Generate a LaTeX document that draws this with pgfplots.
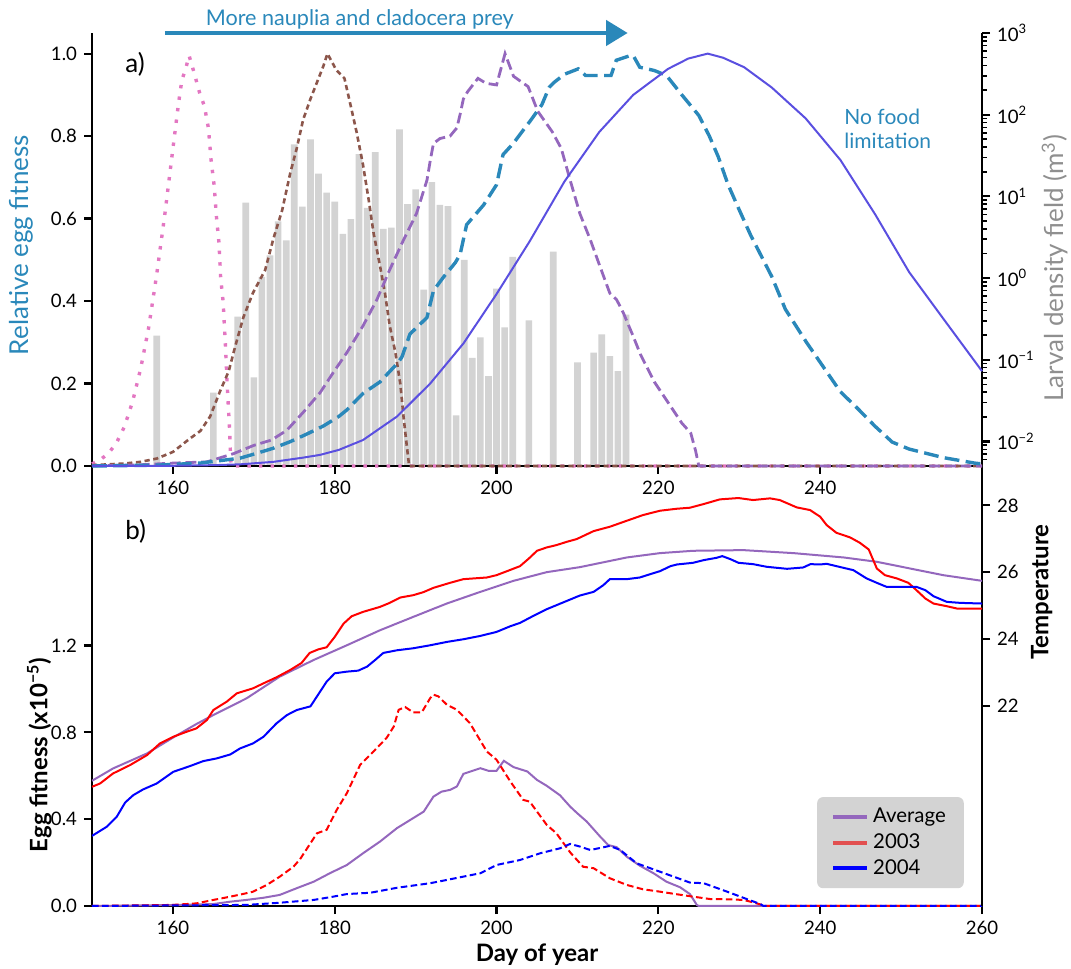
\documentclass[border=0pt]{standalone}
\usepackage{fontspec}
\setmainfont{Lato}
\usepackage{pgfplots}
\pgfplotsset{compat=1.18}
\usetikzlibrary{arrows.meta}

\definecolor{tblue}{HTML}{2A88BA}
\definecolor{sblue}{HTML}{5A4FE0}
\definecolor{tpink}{HTML}{E377C2}
\definecolor{tbrown}{HTML}{8C564B}
\definecolor{tpurple}{HTML}{9467BD}
\definecolor{lgray}{HTML}{D3D3D3}
\definecolor{labgray}{HTML}{8F8F8F}
\definecolor{legred}{HTML}{E25050}

\pgfplotsset{
  panel/.style={
    scale only axis, width=445pt,
    xmin=150, xmax=260, enlargelimits=false,
    axis line style={line width=1.2pt, black},
    every tick/.style={black, line width=1.1pt},
    every minor tick/.style={black, line width=0.8pt},
    tick align=outside,
    major tick length=4pt, minor tick length=2.3pt,
    tick label style={font=\fontsize{9.3}{11}\selectfont},
    /pgf/number format/assume math mode=true,
  },
}

\begin{document}
\begin{tikzpicture}
\useasboundingbox (-46pt,-31.5pt) rectangle (489.5pt,453pt);

% ---------- panel a: larval density (right, log) ----------
\begin{axis}[panel, at={(0,220pt)}, height=216.5pt,
  axis x line=none, axis y line*=right,
  ymode=log, ymin=0.005, ymax=1000, log origin=infty,
  ytick={0.01,0.1,1,10,100,1000},
  minor ytick={0.006,0.007,0.008,0.009,0.02,0.03,0.04,0.05,0.06,0.07,0.08,0.09,
    0.2,0.3,0.4,0.5,0.6,0.7,0.8,0.9,2,3,4,5,6,7,8,9,20,30,40,50,60,70,80,90,
    200,300,400,500,600,700,800,900},
  yticklabels={10\textsuperscript{−2},10\textsuperscript{−1},10\textsuperscript{0},
    10\textsuperscript{1},10\textsuperscript{2},10\textsuperscript{3}},
  ylabel={Larval density field (m\textsuperscript{3})},
  ylabel style={at={(rel axis cs:1.082,0.457)}, anchor=center,
    font=\fontsize{13}{15}\selectfont, text=labgray},
]
\addplot[ybar, bar width=0.82, fill=lgray, draw=none] coordinates {
(158,0.197) (165,0.0396) (168,0.336) (169,8.41) (170,0.0608) (171,1.03)
(172,1.90) (173,4.93) (174,2.89) (175,43.4) (176,7.50) (177,49.9)
(178,19.0) (179,11.1) (180,8.61) (181,3.48) (182,5.28) (183,32.8)
(184,7.23) (185,34.8) (186,4.00) (187,4.14) (188,65.9) (189,8.03)
(190,12.2) (191,0.724) (192,14.9) (193,7.85) (194,7.59) (195,0.0209)
(196,1.67) (197,0.105) (198,0.188) (199,0.0630) (200,0.741) (201,0.249)
(202,1.82) (204,0.303) (207,2.11) (210,0.0925) (212,0.122) (213,0.204)
(214,0.111) (215,0.0725) (216,0.356)
};
\end{axis}

% ---------- panel a: relative egg fitness (left) ----------
\begin{axis}[panel, at={(0,220pt)}, height=216.5pt,
  axis x line*=bottom, axis y line*=left,
  ymin=0, ymax=1.05,
  ytick={0,0.2,0.4,0.6,0.8,1.0},
  yticklabel style={/pgf/number format/.cd, fixed, fixed zerofill, precision=1},
  xtick={150,160,180,200,220,240,260},
  xticklabels={,160,180,200,220,240,},
  ylabel={Relative egg fitness},
  ylabel style={at={(rel axis cs:-0.079,0.51)}, anchor=center,
    font=\fontsize{13}{15}\selectfont, text=tblue},
  clip=false,
]
% pink dotted
\addplot[tpink, line width=1.7pt, dash pattern=on 1.7pt off 4.1pt] coordinates {
(150,0.005) (151,0.015) (152,0.03) (153,0.055) (154,0.095) (155,0.155)
(156,0.235) (157,0.335) (158,0.465) (159,0.61) (160,0.77) (160.7,0.88)
(161.1,0.935) (161.6,0.965) (162,0.995) (162.6,0.955) (163.3,0.905)
(163.9,0.872) (164.4,0.818) (164.7,0.745) (165.1,0.68) (165.4,0.60)
(165.7,0.54) (165.9,0.456) (166.2,0.40) (166.5,0.29) (166.7,0.20)
(167,0.09) (167.1,0.035) (167.2,0) (260,0)
};
% brown dotted
\addplot[tbrown, line width=1.3pt, dash pattern=on 2.6pt off 1.8pt] coordinates {
(150,0.002) (154,0.006) (156,0.01) (158,0.018) (160,0.034) (162,0.065)
(163.4,0.085) (164.6,0.12) (165.8,0.18) (166.9,0.23) (167.7,0.29)
(168.7,0.36) (169.9,0.42) (171.4,0.475) (172.4,0.55) (173.5,0.62)
(174.5,0.71) (175.3,0.77) (176.1,0.84) (177,0.89) (177.8,0.93)
(178.6,0.97) (179.1,1.0) (180.2,0.96) (181.2,0.94) (181.9,0.88)
(182.7,0.81) (183.5,0.73) (184.2,0.645) (184.8,0.565) (185.6,0.485)
(186.2,0.42) (186.8,0.34) (187.5,0.275) (188.1,0.20) (188.5,0.12)
(188.9,0.05) (189.2,0) (260,0)
};
% purple dashed
\addplot[tpurple, line width=1.4pt, dash pattern=on 5.4pt off 2.4pt] coordinates {
(150,0) (156,0.003) (160,0.007) (164.2,0.01) (167.5,0.03) (170,0.05)
(172.2,0.063) (174.1,0.087) (176.1,0.13) (178.2,0.178) (179.8,0.226)
(181.5,0.275) (183.5,0.34) (185.2,0.403) (186.8,0.476) (188.5,0.548)
(190.1,0.612) (191.4,0.693) (191.8,0.74) (192.2,0.782) (193,0.794)
(194.25,0.80) (195.1,0.82) (195.5,0.853) (195.9,0.89) (196.4,0.907)
(197.7,0.94) (198.7,0.928) (200,0.924) (201.05,1.0) (202.1,0.945)
(203.9,0.92) (205.1,0.86) (206.9,0.81) (208,0.77) (209.1,0.693)
(210.3,0.612) (211.6,0.548) (212.8,0.483) (214,0.419) (214.85,0.403)
(215.7,0.37) (216.9,0.314) (217.8,0.27) (219.5,0.204) (221.2,0.154)
(222.9,0.104) (224,0.08) (224.6,0.037) (225,0) (260,0)
};
% blue long dashed
\addplot[tblue, line width=1.7pt, dash pattern=on 7.4pt off 3.2pt] coordinates {
(150,0) (158,0.002) (163.35,0.007) (166.65,0.015) (168.3,0.019)
(170.4,0.031) (172.4,0.043) (174.5,0.059) (176.5,0.077) (178.6,0.097)
(180.5,0.12) (181.5,0.136) (183.5,0.176) (185.6,0.204) (187.7,0.248)
(188.3,0.264) (189.3,0.32) (191.4,0.36) (192.2,0.425) (193.4,0.457)
(194.9,0.493) (195.5,0.513) (196.3,0.585) (198.4,0.633) (200,0.682)
(200.8,0.755) (202.1,0.783) (203.7,0.825) (204.1,0.835) (205.6,0.876)
(206.5,0.918) (207.1,0.93) (208.4,0.95) (210.1,0.963) (211,0.947)
(214.15,0.947) (214.8,0.984) (216.5,0.995) (216.9,0.995) (217.7,0.967)
(219.5,0.959) (221,0.947) (222.9,0.90) (225,0.85) (226.3,0.80)
(227.4,0.75) (228.6,0.683) (229.7,0.634) (231.4,0.56) (234,0.46)
(235.7,0.38) (237,0.34) (238.3,0.30) (240.4,0.24) (242.5,0.18)
(244.6,0.14) (246.8,0.096) (248.9,0.058) (251,0.041) (255.3,0.02)
(259.1,0.007) (260,0.005)
};
% no food limitation
\addplot[sblue, line width=1pt] coordinates {
(150,0) (160,0.0005) (165,0.002) (168.3,0.004) (172.4,0.01) (176,0.02)
(178.2,0.027) (180.5,0.039) (183.5,0.063) (187.7,0.12) (191.8,0.20)
(195.9,0.297) (200,0.417) (204.1,0.545) (208.4,0.69) (212.7,0.81)
(216.9,0.90) (221.2,0.963) (223.7,0.988) (226.1,1.0) (228,0.99)
(230.6,0.967) (234,0.918) (238.2,0.843) (242.5,0.742) (246.8,0.61)
(251,0.47) (255.3,0.355) (260,0.23)
};
\draw[tblue, line width=1.7pt, -{Triangle[length=10.8pt,width=12.7pt]}]
  (axis cs:159,1.05) -- (axis cs:216.2,1.05);
\node[anchor=base, inner sep=0pt, text=tblue, font=\fontsize{10.8}{13}\selectfont]
  at (axis cs:183.1,1.069) {More nauplia and cladocera prey};
\node[anchor=base west, inner sep=0pt, text=tblue, font=\fontsize{10.5}{12}\selectfont]
  at (axis cs:242.95,0.829) {No food};
\node[anchor=base west, inner sep=0pt, text=tblue, font=\fontsize{10.5}{12}\selectfont]
  at (axis cs:242.95,0.769) {limitation};
\node[anchor=base west, inner sep=0pt, font=\fontsize{13}{15}\selectfont]
  at (axis cs:154.08,0.954) {a)};
\end{axis}

% ---------- panel b: egg fitness (left) ----------
\begin{axis}[panel, at={(0,0)}, height=217pt,
  axis x line*=bottom, axis y line*=left,
  ymin=0, ymax=2.0,
  ytick={0,0.4,0.8,1.2},
  yticklabel style={/pgf/number format/.cd, fixed, fixed zerofill, precision=1},
  xtick={160,180,200,220,240,260},
  xlabel={Day of year},
  xlabel style={at={(rel axis cs:0.5,-0.113)}, anchor=center,
    font=\bfseries\fontsize{12}{14}\selectfont},
  ylabel={Egg fitness (x10\textsuperscript{−5})},
  ylabel style={at={(rel axis cs:-0.059,0.348)}, anchor=center,
    font=\bfseries\fontsize{12}{14}\selectfont},
  clip=false,
]
\addplot[tpurple, line width=1pt] coordinates {
(150,0) (160.8,0.005) (165,0.009) (167.1,0.02) (169.1,0.028) (171.2,0.038)
(173.2,0.051) (175.3,0.082) (177.4,0.112) (179.4,0.151) (181.5,0.189)
(183.5,0.243) (185.6,0.297) (187.7,0.359) (189.7,0.405) (191,0.435)
(192.2,0.504) (193.2,0.527) (194.25,0.535) (195.1,0.551) (195.9,0.609)
(198,0.635) (199,0.623) (200,0.623) (200.9,0.669) (202.1,0.64)
(203.8,0.62) (205,0.581) (206.2,0.554) (207.85,0.51) (209.1,0.458)
(209.9,0.43) (211.15,0.389) (212.8,0.32) (213.8,0.281) (214.85,0.271)
(216.1,0.227) (217.7,0.186) (219.4,0.151) (221,0.112) (222.7,0.086)
(223.9,0.055) (224.75,0.005) (225,0) (260,0)
};
\addplot[red, line width=1pt, dash pattern=on 3.3pt off 1.7pt] coordinates {
(150,0) (160,0.005) (162.9,0.012) (165,0.028) (167.1,0.043) (169.1,0.059)
(169.9,0.066) (171.6,0.097) (173.2,0.135) (174.9,0.181) (175.7,0.215)
(177,0.289) (177.8,0.335) (179,0.351) (180.25,0.443) (181.5,0.52)
(183.15,0.651) (184.4,0.697) (186.4,0.774) (187.3,0.827) (187.9,0.904)
(188.7,0.917) (189.7,0.892) (190.75,0.892) (191.8,0.958) (192.2,0.974)
(192.8,0.966) (193.85,0.928) (195.1,0.904) (196.7,0.843) (198.8,0.712)
(200,0.674) (201.7,0.574) (203.3,0.489) (204.1,0.481) (206.2,0.374)
(207.4,0.335) (209.1,0.247) (210.7,0.181) (212,0.174) (214,0.128)
(216.1,0.097) (218.1,0.077) (220.2,0.066) (222.3,0.054) (224.3,0.043)
(226.4,0.032) (228.5,0.031) (230.5,0.028) (231.7,0.017) (232.8,0.005)
(233.2,0) (260,0)
};
\addplot[blue, line width=1pt, dash pattern=on 3.3pt off 1.7pt] coordinates {
(150,0) (169.1,0.005) (173.2,0.015) (177.4,0.028) (179.8,0.043)
(181.5,0.055) (184.4,0.061) (187.7,0.084) (191.8,0.105) (193.85,0.12)
(198,0.151) (200,0.189) (202.9,0.212) (205.4,0.243) (207.85,0.266)
(209.1,0.286) (210.3,0.274) (211.6,0.258) (214,0.277) (215.3,0.258)
(217.3,0.197) (220.2,0.158) (223.9,0.108) (225.6,0.105) (228.5,0.066)
(231,0.031) (232.6,0.009) (233,0) (260,0)
};
\node[anchor=base west, inner sep=0pt, font=\fontsize{13}{15}\selectfont]
  at (axis cs:154.08,1.687) {b)};
\end{axis}

% ---------- panel b: temperature (right) ----------
\begin{axis}[panel, at={(0,0)}, height=217pt,
  axis x line=none, axis y line*=right,
  ymin=16, ymax=29,
  ytick={22,24,26,28},
  ylabel={Temperature},
  ylabel style={at={(rel axis cs:1.067,0.723)}, anchor=center,
    font=\bfseries\fontsize{12}{14}\selectfont},
  legend style={at={(rel axis cs:0.98,0.04)}, anchor=south east,
    fill=lgray, draw=none, rounded corners=3pt,
    font=\fontsize{10.2}{13.5}\selectfont, inner xsep=7pt, inner ysep=3.5pt},
  legend cell align=left,
  legend image code/.code={\draw[#1] (0pt,0pt) -- (17pt,0pt);},
]
\addlegendimage{tpurple, line width=2pt}
\addlegendentry{Average}
\addlegendimage{legred, line width=2pt}
\addlegendentry{2003}
\addlegendimage{blue, line width=2pt}
\addlegendentry{2004}
\addplot[forget plot, tpurple, line width=1pt] coordinates {
(150,19.75) (152.6,20.12) (156.8,20.57) (160.05,21.05) (162.9,21.45)
(165,21.72) (169.1,22.22) (173.2,22.87) (177.4,23.37) (181.5,23.81)
(185.6,24.26) (189.7,24.66) (193.85,25.06) (198,25.41) (202.1,25.74)
(206.2,26.0) (210.3,26.15) (216.1,26.44) (220.2,26.57) (224.3,26.64)
(230.5,26.66) (236.7,26.57) (242.9,26.44) (247,26.31) (251.1,26.11)
(255.2,25.91) (260,25.74)
};
\addplot[forget plot, red, line width=1pt] coordinates {
(150,19.57) (151,19.67) (152.6,19.97) (154.7,20.22) (156.8,20.52)
(158.4,20.87) (160.05,21.07) (161.7,21.22) (162.9,21.32) (164.2,21.57)
(165,21.87) (166.65,22.12) (167.9,22.37) (169.9,22.52) (171.2,22.67)
(172.8,22.85) (174.5,23.07) (175.9,23.28) (176.9,23.58) (178,23.69)
(179,23.75) (180,24.06) (181.1,24.46) (182.1,24.68) (183.5,24.81)
(185.6,24.96) (186.8,25.08) (188.1,25.24) (189.7,25.31) (190.95,25.40)
(192.2,25.53) (194.25,25.68) (195.9,25.79) (198.8,25.84) (200,25.91)
(201.3,26.03) (202.9,26.18) (204,26.41) (205,26.64) (206.2,26.74)
(207.4,26.81) (208.7,26.91) (209.9,26.99) (212,27.23) (214,27.36)
(216.1,27.54) (218.1,27.71) (220.2,27.84) (222.3,27.90) (223.9,27.93)
(225.6,28.04) (227.6,28.18) (229.9,28.22) (231.7,28.16) (233.8,28.21)
(235,28.16) (237.1,27.94) (238.75,27.86) (240,27.66) (240.8,27.41)
(242,27.18) (243.7,27.04) (244.9,26.88) (246,26.68) (247,26.11)
(248,25.91) (249.5,25.81) (250.9,25.68) (251.9,25.46) (253,25.21)
(254,25.06) (255.65,24.98) (256.9,24.91) (260,24.91)
};
\addplot[forget plot, blue, line width=1pt] coordinates {
(150,18.1) (151.8,18.37) (153.05,18.67) (154.1,19.10) (155.1,19.32)
(156.3,19.49) (158,19.67) (160.05,20.02) (162.1,20.19) (163.75,20.34)
(165.4,20.42) (167.1,20.54) (168.3,20.72) (169.9,20.87) (171.2,21.07)
(172.8,21.47) (174.1,21.72) (175.3,21.87) (177,21.98) (179,22.72)
(180,22.97) (181.5,23.02) (182.9,23.05) (184,23.17) (185,23.37)
(186,23.58) (187.7,23.66) (189.7,23.72) (191.8,23.81) (193.85,23.91)
(195.9,23.99) (198,24.09) (200,24.21) (201.7,24.38) (202.9,24.48)
(204.55,24.69) (206.2,24.89) (208.3,25.1) (210.3,25.3) (212,25.41)
(213.2,25.61) (214,25.79) (216.1,25.79) (217.7,25.84) (219,25.94)
(220.2,26.03) (221.5,26.18) (222.3,26.23) (224.3,26.28) (225.6,26.36)
(227.2,26.43) (227.9,26.48) (228.9,26.39) (229.9,26.28) (231.7,26.24)
(233.4,26.16) (235.9,26.10) (237.9,26.14) (238.8,26.24) (240,26.23)
(240.8,26.25) (242,26.18) (244.1,26.06) (245.75,25.81) (247,25.68)
(248.2,25.56) (249.9,25.56) (251.9,25.56) (253,25.46) (254,25.28)
(255.65,25.11) (257.3,25.08) (260,25.06)
};
\end{axis}
\end{tikzpicture}
\end{document}
